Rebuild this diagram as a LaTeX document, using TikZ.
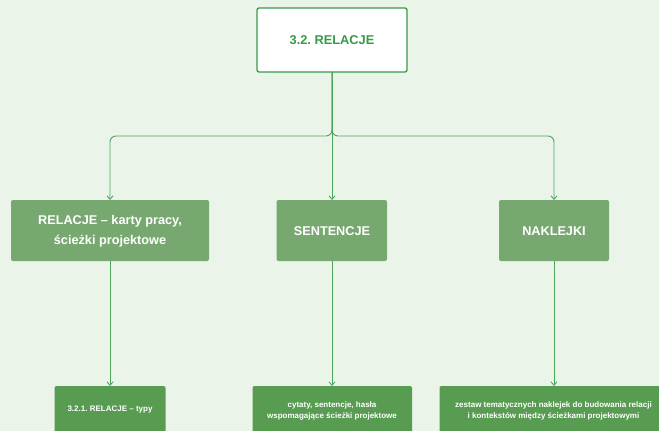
\documentclass[tikz,border=0pt]{standalone}
\usepackage{fontspec}
\setmainfont{Liberation Sans}
\usetikzlibrary{arrows.meta}
\frenchspacing
\definecolor{bg}{HTML}{EAF4E9}
\definecolor{topgreen}{HTML}{389A48}
\definecolor{midfill}{HTML}{77A870}
\definecolor{lowfill}{HTML}{579C51}
\definecolor{linegreen}{HTML}{4EA55C}
\tikzset{
  topbox/.style={draw=topgreen, line width=1.3pt, fill=white, rounded corners=2pt},
  toptext/.style={text=topgreen, font=\bfseries\fontsize{12.8}{15}\selectfont},
  midbox/.style={fill=midfill, rounded corners=2pt},
  midtext/.style={text=white, font=\bfseries\fontsize{12.7}{19.5}\selectfont, align=center},
  lowbox/.style={fill=lowfill, rounded corners=2pt},
  lowtext/.style={text=white, font=\bfseries\fontsize{8}{11.7}\selectfont, align=center},
  conn/.style={draw=linegreen, line width=0.9pt, -{Straight Barb[length=3.5pt,width=6pt]}},
}
\begin{document}
\begin{tikzpicture}[x=1pt,y=-1pt]
\fill[bg] (0,0) rectangle (659,431);
\useasboundingbox (0,0) rectangle (659,431);
\path[topbox] (257,8) rectangle (407,72);
\node[toptext] (top) at (332,40) {3.2. RELACJE};
\coordinate (topb) at (332,72);
\path[midbox] (11,200) rectangle (209,261);
\node[midtext] (m1) at (110,231) {RELACJE – karty pracy,\\ścieżki projektowe};
\path[midbox] (276.5,200) rectangle (387,261);
\node[midtext] (m2) at (332,231) {SENTENCJE};
\path[midbox] (499,200) rectangle (609,261);
\node[midtext] (m3) at (554,231) {NAKLEJKI};
\coordinate (m1t) at (110,200); \coordinate (m2t) at (332,200); \coordinate (m3t) at (554,200);
\coordinate (m1b) at (110,261); \coordinate (m2b) at (332,261); \coordinate (m3b) at (554,261);
\path[lowbox] (54.5,386) rectangle (165.5,440);
\node[lowtext] (b1) at (110,410) {3.2.1. RELACJE – typy};
\path[lowbox] (252.5,386) rectangle (412,440);
\node[lowtext] (b2) at (332,411) {cytaty, sentencje, hasła\\wspomagające ścieżki projektowe};
\path[lowbox] (439.5,386) rectangle (660,440);
\node[lowtext] (b3) at (553.5,411) {zestaw tematycznych naklejek do budowania relacji\\i kontekstów między ścieżkami projektowymi};
\coordinate (b1t) at (110,386); \coordinate (b2t) at (332,386); \coordinate (b3t) at (554,386);
\coordinate (j) at (332,136);
\draw[conn, rounded corners=6pt] (topb) -- (j) -- (110,136) -- (m1t);
\draw[conn, rounded corners=6pt] (topb) -- (j) -- (554,136) -- (m3t);
\draw[conn] (topb) -- (m2t);
\draw[conn] (m1b) -- (b1t);
\draw[conn] (m2b) -- (b2t);
\draw[conn] (m3b) -- (b3t);
\end{tikzpicture}
\end{document}
